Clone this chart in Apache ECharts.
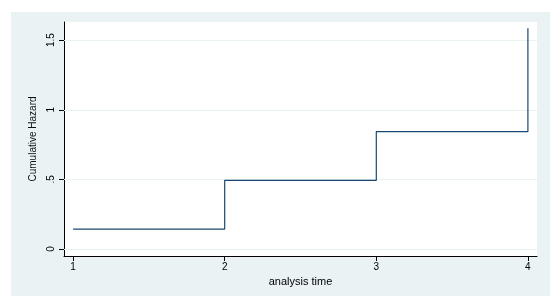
<!DOCTYPE html>
<html><head><meta charset="utf-8">
<script src="https://cdn.jsdelivr.net/npm/echarts@6/dist/echarts.min.js"></script>
<style>html,body{margin:0;padding:0;background:#fff}#c{width:559px;height:308px}</style>
</head><body><div id="c"></div>
<script>
const times = [1, 2, 3, 4];
const cumHazard = [0.143, 0.493, 0.843, 1.586];
const xTicks = [1, 2, 3, 4];
const yTicks = [0, 0.5, 1, 1.5];
const yTickLabels = ['0', '.5', '1', '1.5'];

const chart = echarts.init(document.getElementById('c'), null, {renderer: 'canvas'});
const font = 'Liberation Sans, Arial, sans-serif';
chart.setOption({
  animation: false,
  backgroundColor: '#ffffff',
  graphic: [{
    type: 'rect', z: -10, silent: true,
    shape: {x: 11, y: 12, width: 539, height: 284},
    style: {fill: '#eaf2f3'}
  }],
  grid: {left: 64, right: 22, top: 22, bottom: 52, show: true, backgroundColor: '#ffffff', borderWidth: 0},
  xAxis: {
    type: 'value', min: 0.94, max: 4.06,
    name: 'analysis time', nameLocation: 'middle', nameGap: 14,
    nameTextStyle: {fontFamily: font, fontSize: 11, color: '#000'},
    axisLine: {show: true, onZero: false, lineStyle: {color: '#000', width: 1}},
    axisTick: {show: true, length: 5, customValues: xTicks, lineStyle: {color: '#000'}},
    axisLabel: {customValues: xTicks, fontFamily: font, fontSize: 10, color: '#000', margin: 6},
    splitLine: {show: false}
  },
  yAxis: {
    type: 'value', min: -0.05, max: 1.63,
    name: 'Cumulative Hazard', nameLocation: 'middle', nameGap: 24,
    nameTextStyle: {fontFamily: font, fontSize: 10, color: '#111'},
    axisLine: {show: true, onZero: false, lineStyle: {color: '#000', width: 1}},
    axisTick: {show: true, length: 5, customValues: yTicks, lineStyle: {color: '#000'}},
    axisLabel: {customValues: yTicks, rotate: 90, fontFamily: font, fontSize: 10, color: '#000', margin: 8,
      formatter: v => yTickLabels[yTicks.indexOf(Math.round(v * 100) / 100)] ?? String(v)},
    splitLine: {show: false}
  },
  series: [{
    type: 'line', step: 'end', symbol: 'none',
    data: times.map((t, i) => [t, cumHazard[i]]),
    lineStyle: {color: '#1a476f', width: 1.2},
    markLine: {
      silent: true, symbol: 'none', label: {show: false}, z: 1,
      lineStyle: {color: '#eaf2f3', width: 1, type: 'solid'},
      data: yTicks.map(v => ({yAxis: v}))
    }
  }]
});
</script></body></html>
